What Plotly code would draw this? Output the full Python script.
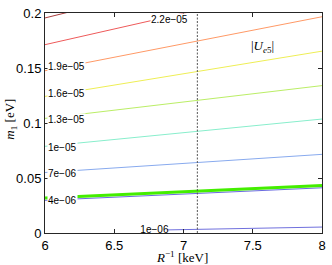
import plotly.graph_objects as go

# ---- data ----
levels = ["2.5e−05", "2.2e−05", "1.9e−05", "1.6e−05", "1.3e−05",
          "1e−05", "7e−06", "4e−06", "1e−06"]
line_x = [[6, 8], [6, 8], [6, 8], [6, 8], [6, 8],
          [6, 8], [6, 8], [6, 8], [6.88, 8]]
line_y = [[0.1955, 0.258], [0.1712, 0.2283], [0.1475, 0.1966],
          [0.1242, 0.1653], [0.1042, 0.1340], [0.0788, 0.1036],
          [0.0550, 0.0715], [0.0297, 0.0411], [0.0028, 0.0054]]
green_x = [6, 8]
green_y = [0.0318, 0.0432]
vline_x = 7.1
x_ticks = [6, 6.5, 7, 7.5, 8]
x_tick_text = ["6", "6.5", "7", "7.5", "8"]
y_ticks = [0, 0.05, 0.1, 0.15, 0.2]
y_tick_text = ["0", "0.05", "0.1", "0.15", "0.2"]

# label positions (data coords)
label_text = ["2.2e−05", "1.9e−05", "1.6e−05", "1.3e−05", "1e−05", "7e−06", "4e−06"]
label_x = [6.90, 6.011, 6.011, 6.011, 6.011, 6.011, 6.011]
label_y = [0.1942, 0.1510, 0.1272, 0.1030, 0.0780, 0.0542, 0.0291]
label_anchor = ["center", "left", "left", "left", "left", "left", "left"]

colors = ["#a83c3c", "#ee5a5a", "#ff9966", "#eeee55", "#bbee66",
          "#88eecc", "#88aaee", "#6a6ae0", "#7070dd"]

fig = go.Figure()
for lx, ly, c in zip(line_x, line_y, colors):
    fig.add_trace(go.Scatter(x=lx, y=ly, mode="lines",
                             line=dict(color=c, width=1), showlegend=False,
                             hoverinfo="skip"))

fig.add_trace(go.Scatter(x=green_x, y=green_y, mode="lines",
                         line=dict(color="#44ee00", width=3), showlegend=False))

fig.add_trace(go.Scatter(x=[vline_x, vline_x], y=[y_ticks[0], y_ticks[-1]], mode="lines",
                         line=dict(color="#555555", width=1, dash="2px,1.5px"),
                         showlegend=False))

# bottom label, clipped by plot area
fig.add_trace(go.Scatter(x=[6.79], y=[0.0025], mode="text", text=[levels[-1]],
                         textfont=dict(family="Liberation Sans", size=10, color="black"),
                         textposition="middle center", cliponaxis=True, showlegend=False))

for t, x, y, a in zip(label_text, label_x, label_y, label_anchor):
    fig.add_annotation(x=x, y=y, xref="x", yref="y", text=t, showarrow=False,
                       xanchor=a, yanchor="middle", bgcolor="white", borderpad=0,
                       font=dict(family="Liberation Sans", size=10, color="black"))

fig.add_annotation(x=7.569, y=0.170, xref="x", yref="y",
                   text="|<i>U</i><sub><i>e</i>5</sub>|", showarrow=False,
                   font=dict(family="Liberation Serif", size=13, color="black"))

fig.add_annotation(x=0.4947, y=-0.109, xref="paper", yref="paper",
                   text="<i>R</i><sup>−1</sup> [keV]", showarrow=False,
                   xanchor="center", yanchor="middle",
                   font=dict(family="Liberation Serif", size=13, color="black"))
fig.add_annotation(x=-0.125, y=0.517, xref="paper", yref="paper",
                   text="<i>m</i><sub>1</sub> [eV]", showarrow=False, textangle=-90,
                   xanchor="center", yanchor="middle",
                   font=dict(family="Liberation Serif", size=13, color="black"))

axis_common = dict(showgrid=False, zeroline=False, showline=True, linecolor="#262626",
                   linewidth=1, mirror="ticks", ticks="inside", ticklen=4,
                   tickcolor="#262626", tickfont=dict(family="Liberation Sans", size=13,
                                                      color="black"))
fig.update_xaxes(range=[6, 8], tickvals=x_ticks, ticktext=x_tick_text, **axis_common)
fig.update_yaxes(range=[0, 0.2], tickvals=y_ticks, ticktext=y_tick_text, **axis_common)

fig.update_layout(width=332, height=265, margin=dict(l=45, r=6, t=9, b=32),
                  plot_bgcolor="white", paper_bgcolor="white", showlegend=False)

fig.write_html("out.html", config={"displayModeBar": False},
               post_script="document.body.style.margin='0';document.body.style.overflow='hidden';")
